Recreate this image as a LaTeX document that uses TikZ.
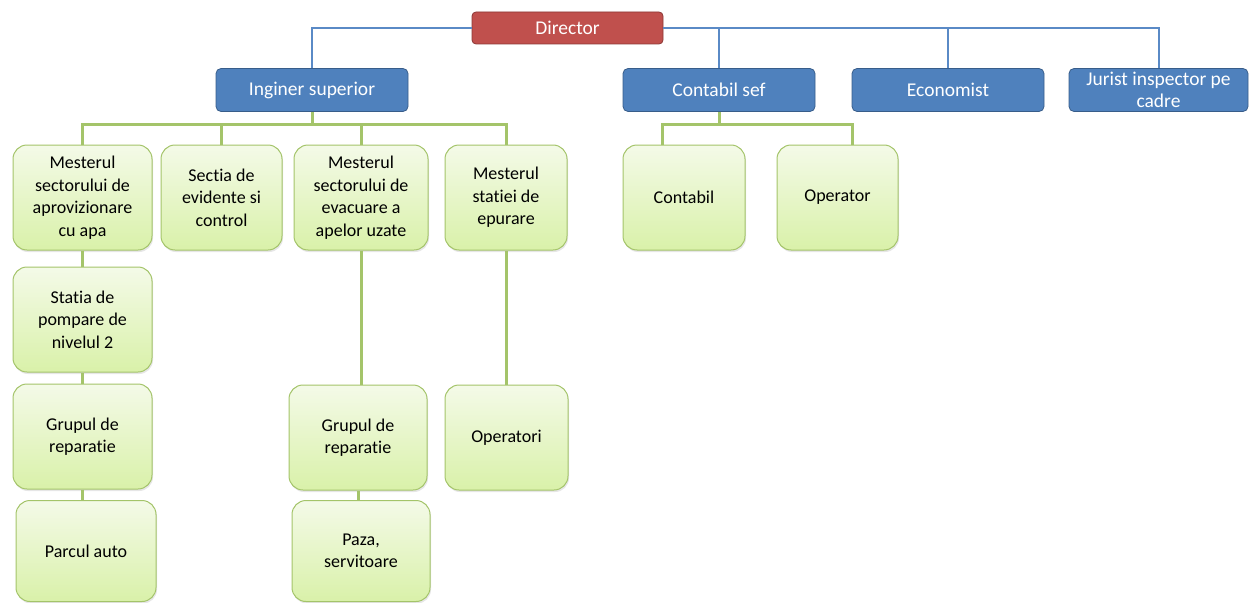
\documentclass[tikz,border=0pt]{standalone}
\usepackage{fontspec}
\setmainfont[Ligatures=NoCommon]{Carlito}
\usepackage{xcolor}
\usepackage{tikz}
\usetikzlibrary{positioning,shadows}
\definecolor{dirred}{HTML}{C0504D}
\definecolor{dirrim}{HTML}{8C3836}
\definecolor{headblue}{HTML}{4F81BD}
\definecolor{headrim}{HTML}{385D8A}
\definecolor{linkblue}{HTML}{5A8AC6}
\definecolor{unitrim}{HTML}{A4C46A}
\definecolor{unittop}{HTML}{F4FAE8}
\definecolor{unitbot}{HTML}{D9F1A9}
\begin{document}
\begin{tikzpicture}[x=1pt, y=-1pt,
  boss/.style={draw=dirrim, fill=dirred, text=white, rounded corners=4pt, line width=0.8pt, minimum width=191pt, minimum height=32pt, align=center, font=\fontsize{19.5}{22}\selectfont},
  chief/.style={draw=headrim, fill=headblue, text=white, rounded corners=5pt, line width=0.8pt, minimum width=192pt, minimum height=43pt, align=center, font=\fontsize{19.5}{22}\selectfont},
  unit/.style={draw=unitrim, top color=unittop, bottom color=unitbot, rounded corners=14pt, line width=1pt, minimum height=105pt, align=center, font=\fontsize{18}{22.5}\selectfont, drop shadow={opacity=0.2, shadow xshift=1pt, shadow yshift=-2pt}},
  blink/.style={draw=linkblue, line width=2pt},
  glink/.style={draw=unitrim, line width=3pt}]
\useasboundingbox (0,0) rectangle (1249,602);
% top level
\node[boss] (dir) at (567.5,28) {Director};
\node[chief] (ing) at (312,90) {Inginer superior};
\node[chief] (csef) at (719,90) {Contabil sef};
\node[chief] (econ) at (948,90) {Economist};
\node[chief, minimum width=179pt, inner sep=1pt] (jur) at (1158.5,90) {Jurist inspector pe\\cadre};
% under Inginer superior
\node[unit, minimum width=139pt] (aprov) at (82.5,197.5) {Mesterul\\sectorului de\\aprovizionare\\cu apa};
\node[unit, minimum width=121pt] (evid) at (221.5,197.5) {Sectia de\\evidente si\\control};
\node[unit, minimum width=134pt] (evac) at (361,197.5) {Mesterul\\sectorului de\\evacuare a\\apelor uzate};
\node[unit, minimum width=122pt] (epur) at (506,197.5) {Mesterul\\statiei de\\epurare};
\node[unit, minimum width=139pt] (pomp) at (82.5,319.5) {Statia de\\pompare de\\nivelul 2};
\node[unit, minimum width=139pt] (grupA) at (82.5,436.5) {Grupul de\\reparatie};
\node[unit, minimum width=140pt, minimum height=101pt] (parc) at (86,551) {Parcul auto};
\node[unit, minimum width=138pt] (grupC) at (358,437.5) {Grupul de\\reparatie};
\node[unit, minimum width=138pt, minimum height=101pt] (paza) at (361,551) {Paza,\\servitoare};
\node[unit, minimum width=123pt] (oprs) at (506.5,437.5) {Operatori};
% under Contabil sef
\node[unit, minimum width=122pt] (cont) at (684,197.5) {Contabil};
\node[unit, minimum width=121pt] (oper) at (837.5,197.5) {Operator};
\coordinate (ingbar) at (312,124);
\coordinate (csbar) at (719,124);
% blue links
\draw[blink] (dir.west) -| (ing.north);
\draw[blink] (dir.east) -| (jur.north);
\draw[blink] (csef.north) -- (csef.north |- dir.east);
\draw[blink] (econ.north) -- (econ.north |- dir.east);
% green links
\draw[glink] (ing.south) -- (ingbar);
\draw[glink] (aprov.north) |- (ingbar) -| (epur.north);
\draw[glink] (evid.north) -- (evid.north |- ingbar);
\draw[glink] (evac.north) -- (evac.north |- ingbar);
\draw[glink] (aprov) -- (pomp);
\draw[glink] (pomp) -- (grupA);
\draw[glink] (grupA.south) -- (grupA.south |- parc.north);
\draw[glink] (evac.south) -- (evac.south |- grupC.north);
\draw[glink] (grupC.south) -- (grupC.south |- paza.north);
\draw[glink] (epur.south) -- (epur.south |- oprs.north);
\draw[glink] (csef.south) -- (csbar);
\draw[glink] ([xshift=-22pt]cont.north) |- (csbar) -| ([xshift=14.5pt]oper.north);
\end{tikzpicture}
\end{document}
